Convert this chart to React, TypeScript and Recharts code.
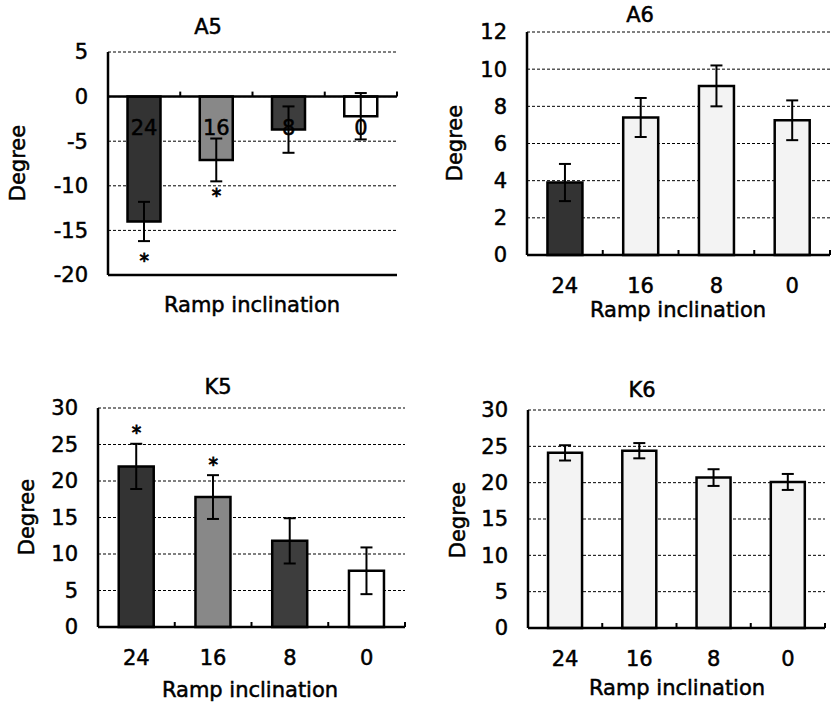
import {
  ComposedChart,
  Bar,
  Cell,
  Line,
  XAxis,
  YAxis,
  CartesianGrid,
  ErrorBar,
  ReferenceLine,
} from 'recharts'

const FONT = '"DejaVu Sans", Arial, sans-serif'

// categories shared by the four panels
const categories = ['24', '16', '8', '0']

// A5
const a5Means = [-14.0, -7.1, -3.7, -2.2]
const a5Errs = [2.2, 2.4, 2.6, 2.6]
const a5Stars = [-17.9, -10.6, null, null]
const a5Ticks = [-20, -15, -10, -5, 0, 5]

// A6
const a6Means = [3.9, 7.4, 9.1, 7.25]
const a6Errs = [1.0, 1.05, 1.1, 1.07]
const a6Stars = [null, null, null, null]
const a6Ticks = [0, 2, 4, 6, 8, 10, 12]

// K5
const k5Means = [22.0, 17.8, 11.8, 7.7]
const k5Errs = [3.1, 3.0, 3.1, 3.2]
const k5Stars = [27.2, 22.9, null, null]
const k5Ticks = [0, 5, 10, 15, 20, 25, 30]

// K6
const k6Means = [24.1, 24.4, 20.7, 20.1]
const k6Errs = [1.05, 1.05, 1.15, 1.1]
const k6Stars = [null, null, null, null]
const k6Ticks = [0, 5, 10, 15, 20, 25, 30]

const DARK = '#333333'
const DARK2 = '#3d3d3d'
const GRAY = '#888888'
const LIGHT = '#f3f3f3'
const WHITE = '#ffffff'

type Plot = { x: number; y: number; w: number; h: number }
type Pt = [number, number]

interface PanelProps {
  title: string
  means: number[]
  errs: number[]
  stars: (number | null)[]
  fills: string[]
  ticks: number[]
  plot: Plot
  titleAt: Pt
  degreeAt: Pt
  rampAt: Pt
}

function Txt({ at, rot, children }: { at: Pt; rot?: boolean; children: string }) {
  return (
    <div
      style={{
        position: 'absolute',
        left: at[0],
        top: at[1],
        transform: `translate(-50%, -50%)${rot ? ' rotate(-90deg)' : ''}`,
        fontFamily: FONT,
        fontSize: 21,
        lineHeight: 1,
        whiteSpace: 'nowrap',
        color: '#000',
        WebkitTextStroke: '0.5px #000',
      }}
    >
      {children}
    </div>
  )
}

function Panel(p: PanelProps) {
  const rows = categories.map((c, i) => ({
    cat: c,
    mean: p.means[i],
    err: p.errs[i],
    star: p.stars[i],
  }))
  const min = p.ticks[0]
  const max = p.ticks[p.ticks.length - 1]
  // distance from the bottom of the plot up to the zero line
  const lift = (p.plot.h * (0 - min)) / (max - min)
  const band = p.plot.w / categories.length

  const renderTick = (props: any) => {
    const { x, y, payload } = props
    const base = y - lift
    return (
      <g>
        <text
          x={x}
          y={base + 31}
          textAnchor="middle"
          dominantBaseline="central"
          fill="#000"
          stroke="#000"
          strokeWidth={0.5}
          fontSize={21}
          fontFamily={FONT}
        >
          {payload.value}
        </text>
        <line
          x1={x + band / 2}
          x2={x + band / 2}
          y1={base}
          y2={base - 5}
          stroke="#000"
          strokeWidth={2}
        />
      </g>
    )
  }

  const renderStar = (props: any) => {
    const { cx, cy, index, value } = props
    if (value == null || cy == null) return <g key={index} />
    return (
      <text
        key={index}
        x={cx}
        y={cy + 11}
        textAnchor="middle"
        fontSize={19}
        fontFamily={FONT}
        fill="#000"
        stroke="#000"
        strokeWidth={0.8}
      >
        *
      </text>
    )
  }

  return (
    <>
      <div style={{ position: 'absolute', left: p.plot.x - 100, top: p.plot.y - 20 }}>
        <ComposedChart
          width={p.plot.w + 110}
          height={p.plot.h + 70}
          data={rows}
          margin={{ top: 20, right: 10, bottom: 0, left: 0 }}
          barCategoryGap="27%"
        >
          <CartesianGrid vertical={false} stroke="#000" strokeDasharray="3 2" />
          <YAxis
            domain={[min, max]}
            ticks={p.ticks}
            interval={0}
            width={100}
            tickSize={0}
            tickMargin={20}
            tickLine={false}
            axisLine={{ stroke: '#000', strokeWidth: 2.5 }}
            tick={{ fill: '#000', stroke: '#000', strokeWidth: 0.5, fontSize: 21, fontFamily: FONT }}
          />
          <YAxis
            yAxisId="r"
            orientation="right"
            width={0}
            domain={[0, 1]}
            tick={false}
            tickLine={false}
            axisLine={{ stroke: '#000', strokeDasharray: '3 2' }}
          />
          <Bar dataKey="mean" stroke="#000" strokeWidth={2.5} isAnimationActive={false}>
            {rows.map((r, i) => (
              <Cell key={r.cat} fill={p.fills[i]} />
            ))}
            <ErrorBar dataKey="err" width={6} stroke="#000" strokeWidth={2} />
          </Bar>
          <Line
            dataKey="star"
            stroke="none"
            dot={renderStar}
            activeDot={false}
            isAnimationActive={false}
          />
          {min < 0 && <ReferenceLine y={0} stroke="#000" strokeWidth={2.5} />}
          <XAxis
            dataKey="cat"
            height={50}
            interval={0}
            tickSize={0}
            tickMargin={0}
            tickLine={false}
            axisLine={{ stroke: '#000', strokeWidth: 2.5 }}
            tick={renderTick}
          />
        </ComposedChart>
      </div>
      <Txt at={p.titleAt}>{p.title}</Txt>
      <Txt at={p.degreeAt} rot>
        Degree
      </Txt>
      <Txt at={p.rampAt}>Ramp inclination</Txt>
    </>
  )
}

export default function App() {
  return (
    <div
      style={{
        position: 'absolute',
        left: 0,
        top: 0,
        width: 831,
        height: 704,
        overflow: 'hidden',
        background: '#fff',
      }}
    >
      <Panel
        title="A5"
        means={a5Means}
        errs={a5Errs}
        stars={a5Stars}
        fills={[DARK, GRAY, DARK2, WHITE]}
        ticks={a5Ticks}
        plot={{ x: 108, y: 52, w: 289, h: 223 }}
        titleAt={[208, 27]}
        degreeAt={[18, 163]}
        rampAt={[252, 305]}
      />
      <Panel
        title="A6"
        means={a6Means}
        errs={a6Errs}
        stars={a6Stars}
        fills={[DARK, LIGHT, LIGHT, LIGHT]}
        ticks={a6Ticks}
        plot={{ x: 527, y: 32, w: 303, h: 223 }}
        titleAt={[640, 15]}
        degreeAt={[455, 143]}
        rampAt={[678, 310]}
      />
      <Panel
        title="K5"
        means={k5Means}
        errs={k5Errs}
        stars={k5Stars}
        fills={[DARK, GRAY, DARK2, WHITE]}
        ticks={k5Ticks}
        plot={{ x: 98, y: 408, w: 307, h: 219 }}
        titleAt={[218, 387]}
        degreeAt={[27, 517]}
        rampAt={[250, 690]}
      />
      <Panel
        title="K6"
        means={k6Means}
        errs={k6Errs}
        stars={k6Stars}
        fills={[LIGHT, LIGHT, LIGHT, LIGHT]}
        ticks={k6Ticks}
        plot={{ x: 528, y: 410, w: 297, h: 218 }}
        titleAt={[642, 390]}
        degreeAt={[458, 520]}
        rampAt={[677, 688]}
      />
    </div>
  )
}
